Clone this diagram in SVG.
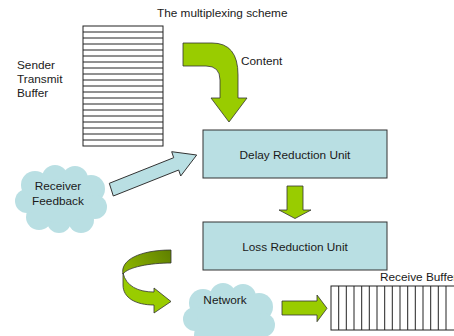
<svg xmlns="http://www.w3.org/2000/svg" width="454" height="336" viewBox="0 0 454 336">
<defs>
<style>
text{font-family:"Liberation Sans",Arial,sans-serif;font-size:11.8px;fill:#1a1a1a}
.box{fill:#b9dfe3;stroke:#333;stroke-width:1}
.green{fill:#99cc00;stroke:#333;stroke-width:0.8}
.cloud circle,.cloud ellipse{fill:#b9dfe3}
.buf{fill:#fff;stroke:#222;stroke-width:1}
.bl{stroke:#222;stroke-width:1}
</style>
<linearGradient id="dk" x1="1" y1="0" x2="0" y2="0.3">
<stop offset="0" stop-color="#5f7f00"/>
<stop offset="1" stop-color="#88b000"/>
</linearGradient>
<g id="cloudshape" class="cloud">
<circle cx="20" cy="20" r="14"/><circle cx="40" cy="13" r="13"/><circle cx="60" cy="14" r="13"/>
<circle cx="76" cy="24" r="14"/><circle cx="80" cy="42" r="12"/><circle cx="66" cy="55" r="13"/>
<circle cx="44" cy="56" r="12"/><circle cx="24" cy="52" r="13"/><circle cx="12" cy="36" r="12"/>
<ellipse cx="46" cy="36" rx="32" ry="22"/>
</g>
</defs>
<rect width="454" height="336" fill="#fff"/>

<text x="157" y="17">The multiplexing scheme</text>

<g id="sender-buffer">
<rect class="buf" x="83" y="26" width="80" height="120"/>
<path class="bl" d="M83,32H163M83,38H163M83,44H163M83,50H163M83,56H163M83,62H163M83,68H163M83,74H163M83,80H163M83,86H163M83,92H163M83,98H163M83,104H163M83,110H163M83,116H163M83,122H163M83,128H163M83,134H163M83,140H163"/>
<text x="17" y="68.5">Sender</text>
<text x="17" y="82.5">Transmit</text>
<text x="17" y="96.5">Buffer</text>
</g>

<g id="delay-unit">
<rect class="box" x="203" y="130" width="184" height="48"/>
<text x="295" y="159" text-anchor="middle">Delay Reduction Unit</text>
</g>

<g id="loss-unit">
<rect class="box" x="203" y="222" width="184" height="48"/>
<text x="295" y="251" text-anchor="middle">Loss Reduction Unit</text>
</g>

<g id="receiver-feedback">
<use href="#cloudshape" transform="translate(15,165)"/>
<text x="58" y="189.5" text-anchor="middle">Receiver</text>
<text x="58" y="204.5" text-anchor="middle">Feedback</text>
</g>

<g id="network">
<use href="#cloudshape" transform="translate(183,283)"/>
<text x="225" y="304" text-anchor="middle">Network</text>
</g>

<g id="receive-buffer">
<rect class="buf" x="331" y="286" width="130" height="44"/>
<path class="bl" d="M338.7,286V330M346.3,286V330M354,286V330M361.7,286V330M369.3,286V330M377,286V330M384.7,286V330M392.3,286V330M400,286V330M407.7,286V330M415.3,286V330M423,286V330M430.7,286V330M438.3,286V330M446,286V330"/>
<text x="380" y="280.5">Receive Buffer</text>
</g>

<g id="connectors">
<path class="green" d="M183,43L212,43Q238,43 238,75L238,98L247,98L229,122L211,98L220,98L220,80Q220,66 206,66L183,66Z"/>
<text x="241" y="65">Content</text>
<polygon class="box" points="109.3,183.3 173.7,157.7 171.7,151.7 196.7,155 180.7,176 178.7,170 113.3,196"/>
<path class="green" d="M287,186H303V210H311L295,218.5L279,210H287Z"/>
<path d="M171,250C140,250 120,260 123,274C128,267 150,263 171,263Z" fill="url(#dk)" stroke="#333" stroke-width="0.8"/>
<path class="green" d="M123,273C126,286 138,292 154,292L154,288L171,301.5L154,313L154,305C136,305 123,298 123,285Z"/>
<path class="green" d="M282,301H317V295L327,308.3L317,321.7V315H282Z"/>
</g>
</svg>
